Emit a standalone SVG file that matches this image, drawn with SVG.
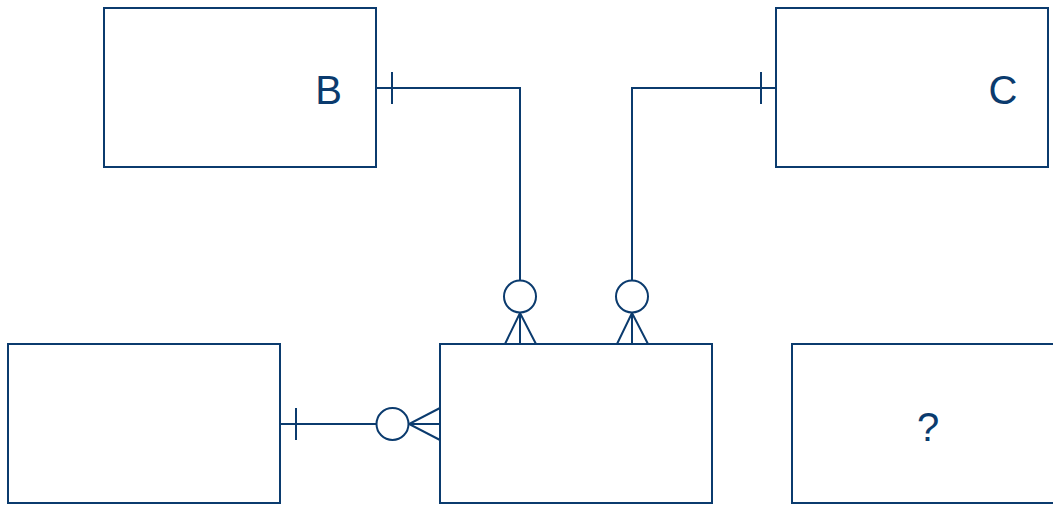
<svg xmlns="http://www.w3.org/2000/svg" width="1053" height="505" viewBox="0 0 1053 505">
<style>
.box{fill:#fff;stroke:#0b3b6e;stroke-width:2}
.ln{fill:none;stroke:#0b3b6e;stroke-width:2}
.c{fill:#fff;stroke:#0b3b6e;stroke-width:2}
.t{font-family:"Liberation Sans",Arial,sans-serif;font-size:40px;fill:#0b3b6e;text-anchor:middle}
</style>
<rect width="1053" height="505" fill="#fff"/>
<g id="connectors">
<path class="ln" d="M376,88 H520 V344"/>
<path class="ln" d="M392,72 V104"/>
<path class="ln" d="M505,344 L520,313 L536,344"/>
<circle class="c" cx="520" cy="296.5" r="16"/>
<path class="ln" d="M776,88 H632 V344"/>
<path class="ln" d="M761,72 V104"/>
<path class="ln" d="M617,344 L632,313 L648,344"/>
<circle class="c" cx="632" cy="296.5" r="16"/>
<path class="ln" d="M280,424 H440"/>
<path class="ln" d="M296,408 V440"/>
<path class="ln" d="M440,408 L409,424 L440,440"/>
<circle class="c" cx="392.5" cy="424" r="16"/>
</g>
<g id="nodeB"><rect class="box" x="104" y="8" width="272" height="159"/><text class="t" x="328.5" y="104">B</text></g>
<g id="nodeC"><rect class="box" x="776" y="8" width="272" height="159"/><text class="t" x="1003" y="104">C</text></g>
<g id="nodeA"><rect class="box" x="8" y="344" width="272" height="159"/></g>
<g id="nodeCenter"><rect class="box" x="440" y="344" width="272" height="159"/></g>
<g id="nodeQ"><rect class="box" x="792" y="344" width="272" height="159"/><text class="t" x="928" y="441">?</text></g>
</svg>
